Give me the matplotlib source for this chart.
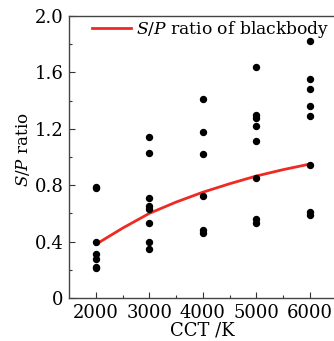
import matplotlib
matplotlib.use("Agg")
import matplotlib.pyplot as plt
from matplotlib.ticker import MultipleLocator, FixedLocator

plt.rcParams["font.family"] = ["DejaVu Serif"]
plt.rcParams["mathtext.fontset"] = "dejavuserif"

# Measured S/P ratios of the light sources at each CCT
cct_2000 = [0.79, 0.78, 0.40, 0.31, 0.28, 0.22, 0.21]
cct_3000 = [1.14, 1.03, 0.71, 0.65, 0.63, 0.53, 0.40, 0.35]
cct_4000 = [1.41, 1.18, 1.02, 0.72, 0.48, 0.46]
cct_5000 = [1.64, 1.30, 1.28, 1.22, 1.11, 0.85, 0.56, 0.53]
cct_6000 = [1.82, 1.55, 1.48, 1.36, 1.29, 0.94, 0.61, 0.59]
scatter_cct = [2000, 3000, 4000, 5000, 6000]
scatter_values = [cct_2000, cct_3000, cct_4000, cct_5000, cct_6000]

# S/P ratio of a blackbody radiator
bb_cct = [2000, 2500, 3000, 3500, 4000, 4500, 5000, 5500, 6000]
bb_sp = [0.38, 0.495, 0.60, 0.68, 0.75, 0.81, 0.865, 0.91, 0.95]

x_ticks = [2000, 3000, 4000, 5000, 6000]
y_ticks = [0, 0.4, 0.8, 1.2, 1.6, 2.0]
y_tick_labels = ["0", "0.4", "0.8", "1.2", "1.6", "2.0"]

fig = plt.figure(figsize=(3.34, 3.41), dpi=100)
ax = fig.add_axes([69 / 334, 43 / 341, 267.5 / 334, 282 / 341])

for c, vals in zip(scatter_cct, scatter_values):
    ax.plot([c] * len(vals), vals, "o", color="black", markersize=4.3,
            linestyle="none", zorder=3)

ax.plot(bb_cct, bb_sp, color="#ee2a24", linewidth=2.0, zorder=2,
        label=r"$\mathit{S/P}$ ratio of blackbody")

ax.set_xlim(1500, 6500)
ax.set_ylim(0, 2.0)
ax.set_xticks(x_ticks)
ax.set_yticks(y_ticks)
ax.set_yticklabels(y_tick_labels)
ax.xaxis.set_minor_locator(FixedLocator([2500, 3500, 4500, 5500]))
ax.yaxis.set_minor_locator(MultipleLocator(0.2))
ax.tick_params(which="both", direction="in", labelsize=13, colors="#333333",
               labelcolor="black")
ax.tick_params(which="major", length=4, width=0.8, pad=4)
ax.tick_params(which="minor", length=2.5, width=0.8)
for s in ax.spines.values():
    s.set_color("#444444")
    s.set_linewidth(1.0)

ax.set_xlabel("CCT /K", fontsize=13, labelpad=0)
ax.set_ylabel(r"$\mathit{S/P}$ ratio", fontsize=12)
ax.yaxis.set_label_coords(-0.14, 0.525)

ax.legend(loc="upper left", bbox_to_anchor=(0.086, 0.99), frameon=False,
          fontsize=12.3, handlelength=2.3, handletextpad=0.25,
          borderpad=0, borderaxespad=0)

fig.savefig("out.png", dpi=100)
